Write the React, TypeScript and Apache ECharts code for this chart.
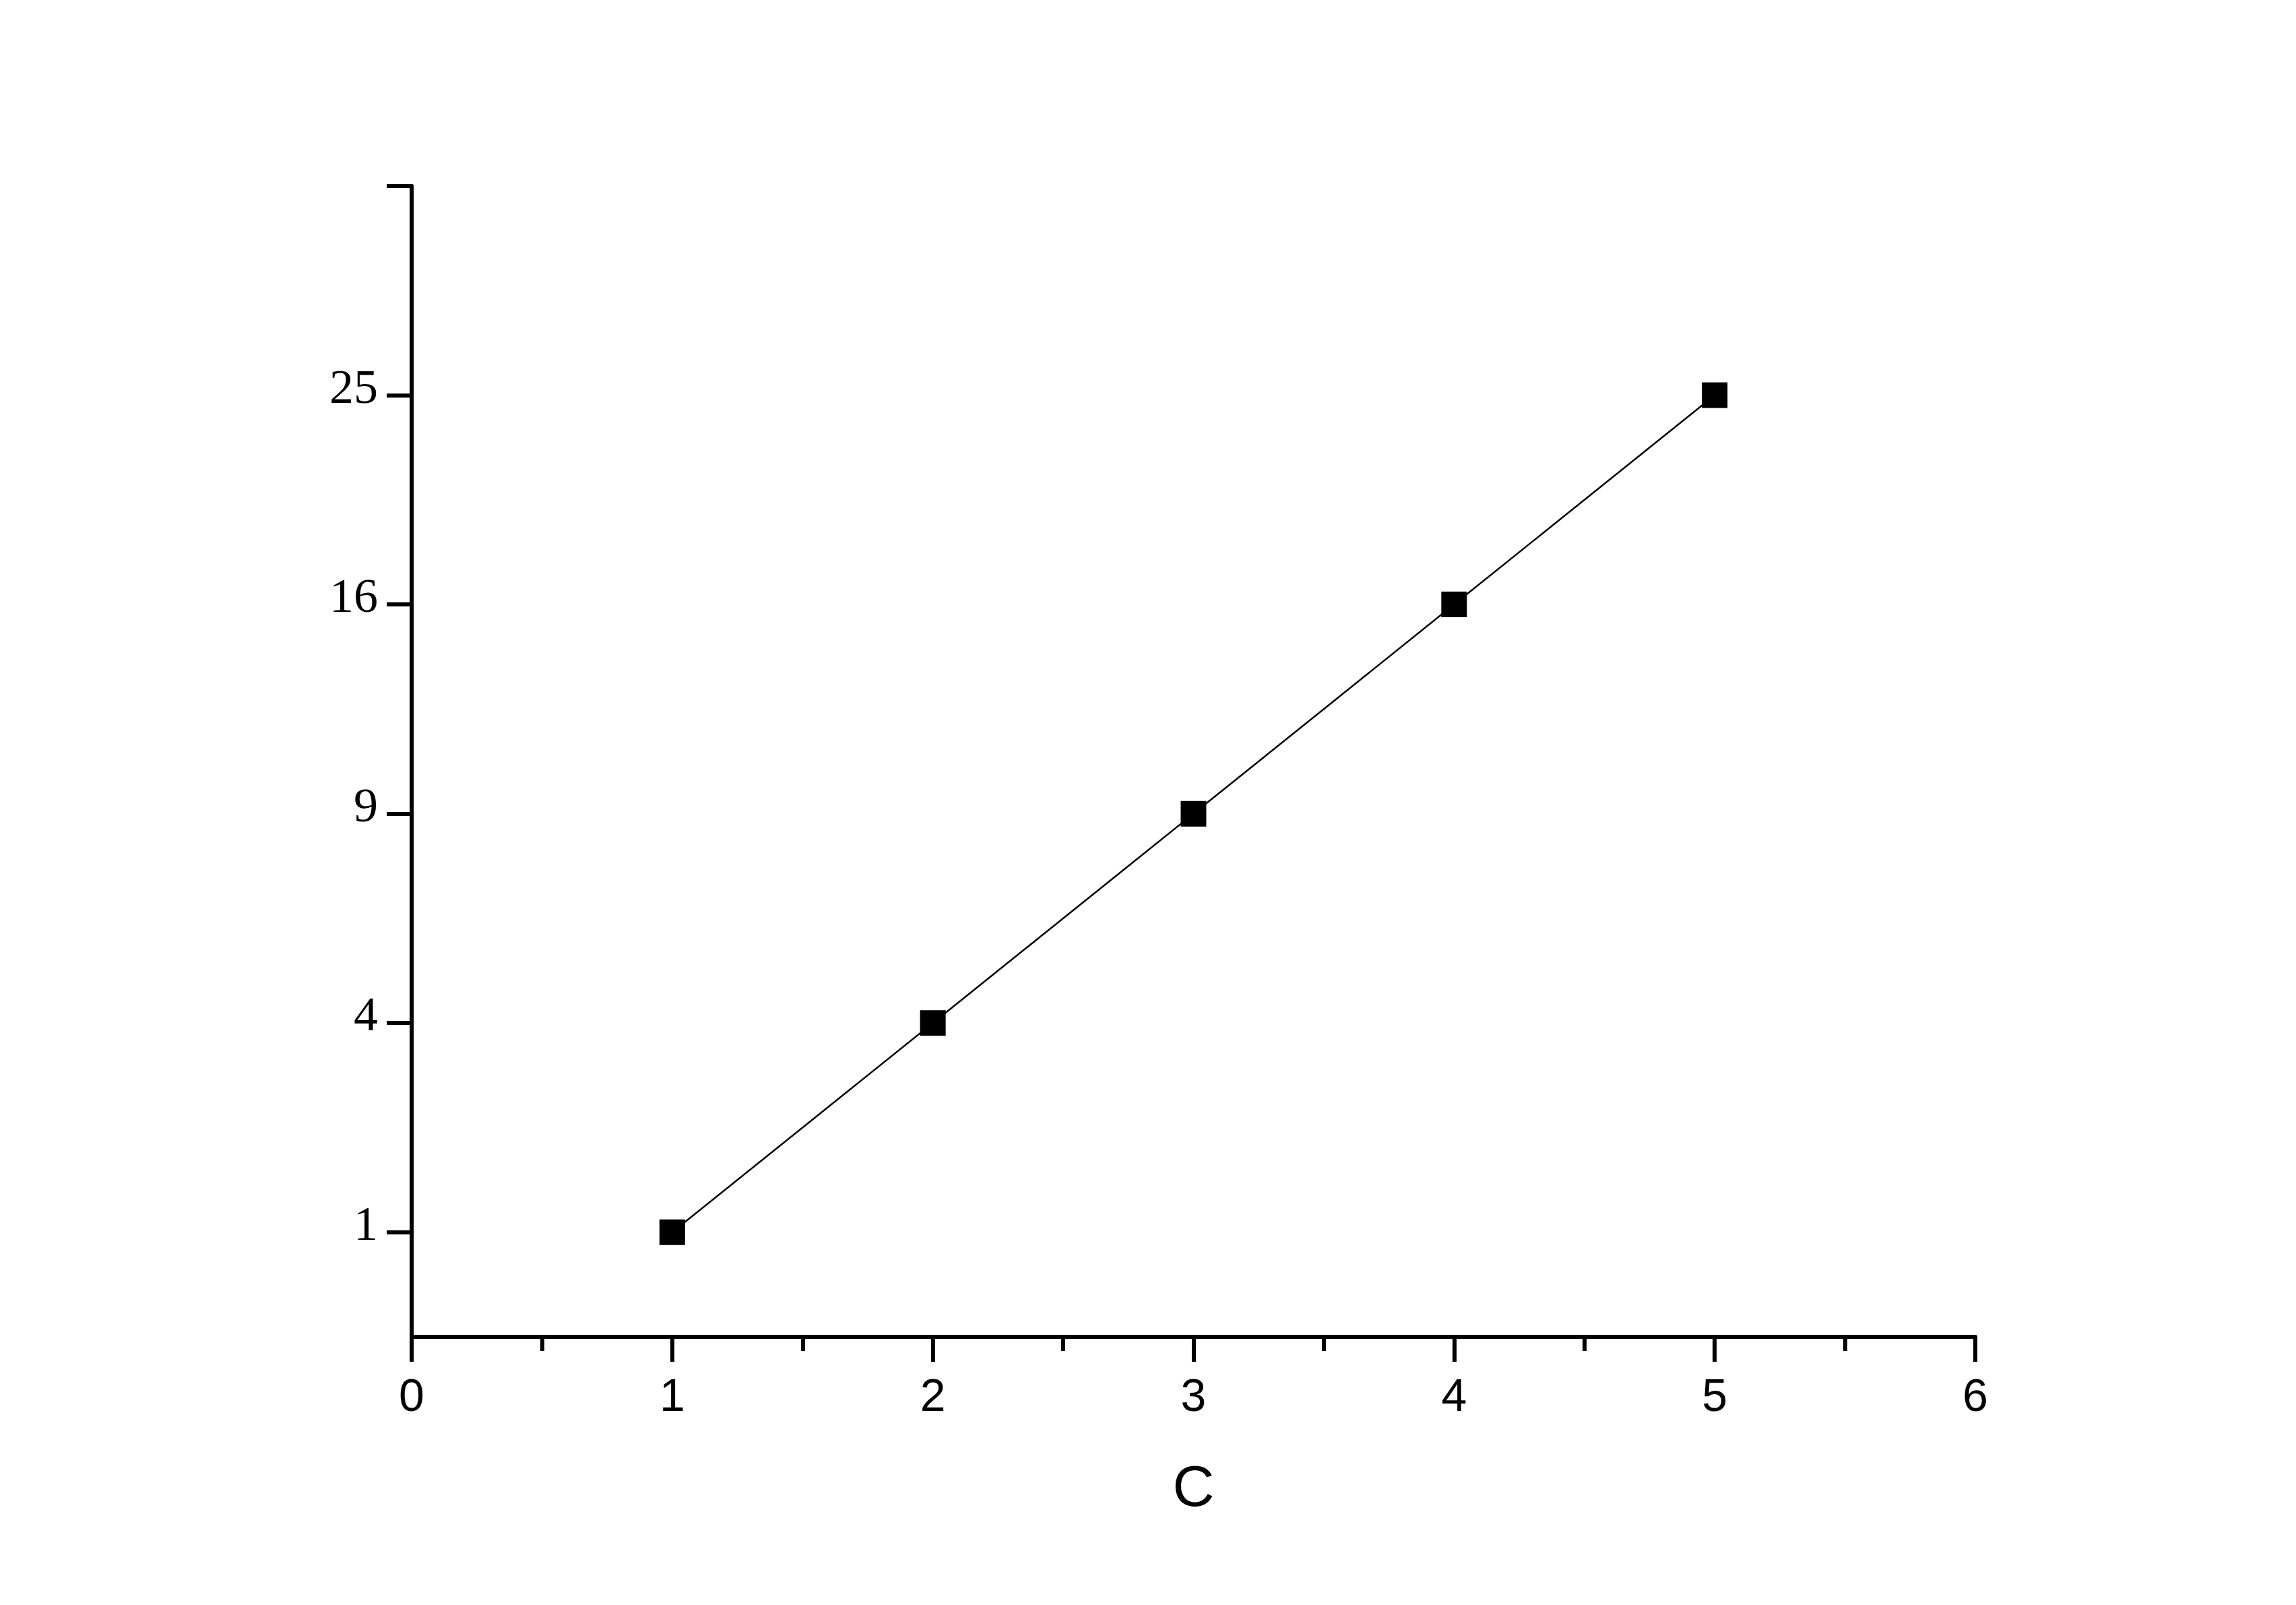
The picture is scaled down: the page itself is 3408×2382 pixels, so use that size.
import React, { useEffect, useRef } from "react";
import * as echarts from "echarts";

const xValues = [1, 2, 3, 4, 5];
const yValues = [1, 4, 9, 16, 25];
const yTickLabels = [1, 4, 9, 16, 25];
const yAxisTop = 36;
const yAxisBottom = 0.25;
const xAxisName = "C";

export default function App() {
  const ref = useRef<HTMLDivElement>(null);
  useEffect(() => {
    if (!ref.current) return;
    const chart = echarts.init(ref.current, null, { renderer: "svg" });
    const data = xValues.map((x, i) => [x, Math.sqrt(yValues[i])]);
    const yLabelVals = yTickLabels.map((v) => Math.sqrt(v));
    const yTickVals = [...yLabelVals, Math.sqrt(yAxisTop)];
    chart.setOption({
      animation: false,
      backgroundColor: "#ffffff",
      grid: { left: 611, top: 276, width: 2321, height: 1708, containLabel: false },
      xAxis: {
        type: "value",
        min: 0,
        max: 6,
        interval: 1,
        name: xAxisName,
        nameLocation: "middle",
        nameGap: 178,
        nameTextStyle: { fontFamily: "Liberation Sans", fontSize: 86, color: "#000" },
        axisLine: { show: true, onZero: false, lineStyle: { color: "#000", width: 6 } },
        axisTick: { show: true, inside: false, length: 37, lineStyle: { color: "#000", width: 6 } },
        minorTick: { show: true, splitNumber: 2, length: 21, lineStyle: { color: "#000", width: 6 } },
        axisLabel: { fontFamily: "Liberation Sans", fontSize: 68, color: "#000", margin: 52 },
        splitLine: { show: false },
        minorSplitLine: { show: false },
      },
      yAxis: {
        type: "value",
        min: Math.sqrt(yAxisBottom),
        max: Math.sqrt(yAxisTop),
        axisLine: { show: true, onZero: false, lineStyle: { color: "#000", width: 6 } },
        axisTick: { show: true, inside: false, length: 37, customValues: yTickVals, lineStyle: { color: "#000", width: 6 } },
        axisLabel: {
          customValues: yLabelVals,
          fontFamily: "Liberation Serif",
          fontSize: 72,
          color: "#000",
          margin: 50,
          formatter: (v: number) => "{a|" + String(Math.round(v * v)) + "}",
          rich: {
            a: {
              fontFamily: "Liberation Serif",
              fontSize: 72,
              color: "#000",
              padding: [0, 0, 26, 0],
            },
          },
        },
        splitLine: { show: false },
      },
      series: [
        {
          type: "line",
          data,
          symbol: "rect",
          symbolSize: 38,
          itemStyle: { color: "#000" },
          lineStyle: { color: "#000", width: 2.5 },
        },
      ],
    });
    return () => chart.dispose();
  }, []);
  return (
    <div
      ref={ref}
      style={{ position: "fixed", left: 0, top: 0, width: 3408, height: 2382, background: "#fff" }}
    />
  );
}
